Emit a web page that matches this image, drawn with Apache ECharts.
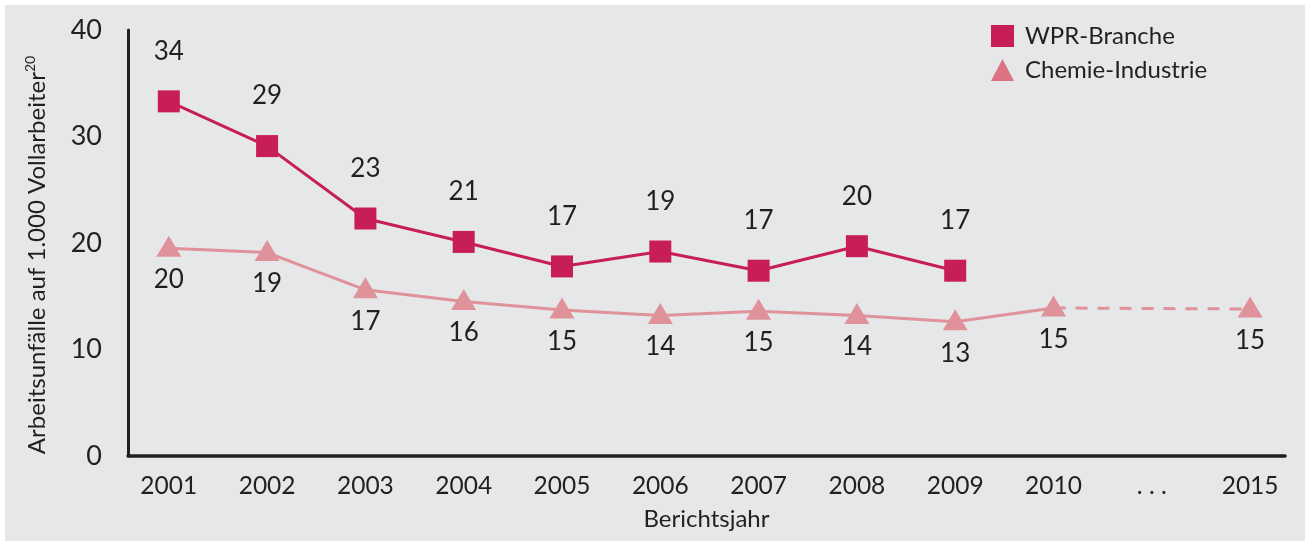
<!DOCTYPE html>
<html>
<head>
<meta charset="utf-8">
<script src="https://cdn.jsdelivr.net/npm/echarts@6/dist/echarts.min.js"></script>
<style>
  html, body { margin: 0; padding: 0; background: #ffffff; }
  #chart { position: absolute; left: 5px; top: 5px; width: 1300px; height: 536px; background: #e6e7e9; }
</style>
</head>
<body>
<div id="chart"></div>
<script>
// ---- data ----
const categories = ['2001', '2002', '2003', '2004', '2005', '2006', '2007', '2008', '2009', '2010', '. . .', '2015'];
const wprValues = [33.3, 29.1, 22.3, 20.1, 17.8, 19.2, 17.4, 19.7, 17.4];
const wprLabels = ['34', '29', '23', '21', '17', '19', '17', '20', '17'];
const chemValues = [19.5, 19.1, 15.6, 14.5, 13.7, 13.2, 13.6, 13.2, 12.6, 13.9, null, 13.8];
const chemLabels = ['20', '19', '17', '16', '15', '14', '15', '14', '13', '15', '', '15'];
const yTicks = [0, 10, 20, 30, 40];

// ---- styles ----
const WPR_COLOR = '#c71d58';
const CHEM_COLOR = '#e0929b';
const CHEM_LEGEND = '#dc7282';
const TEXT = '#231f20';
const FONT = 'Lato';

const chart = echarts.init(document.getElementById('chart'), null, { renderer: 'canvas' });

const wprData = wprValues.map((v, i) => [i, v]);
const chemSolid = [];
for (let i = 0; i <= 9; i++) chemSolid.push([i, chemValues[i]]);
const chemDashed = [
  { value: [9, chemValues[9]], symbol: 'none', label: { show: false } },
  { value: [11, chemValues[11]], label: { show: true, formatter: chemLabels[11] } }
];

const labelBase = { color: TEXT, fontFamily: FONT, fontSize: 26 };

const option = {
  animation: false,
  grid: { left: 123, right: 20, top: 25, bottom: 85, containLabel: false },
  legend: {
    orient: 'vertical',
    left: 981,
    top: 14,
    itemWidth: 23,
    itemHeight: 22,
    itemGap: 10,
    textStyle: { color: TEXT, fontFamily: FONT, fontSize: 24, lineHeight: 22, padding: [0, 0, 0, 6] },
    data: [
      { name: 'WPR-Branche', icon: 'rect', itemStyle: { color: WPR_COLOR } },
      { name: 'Chemie-Industrie', icon: 'triangle', itemStyle: { color: CHEM_LEGEND } }
    ]
  },
  xAxis: {
    type: 'value',
    min: -0.415,
    max: 11.355,
    splitLine: { show: false },
    axisLine: { show: true, onZero: false, lineStyle: { color: TEXT, width: 3.5 } },
    axisTick: { show: false },
    axisLabel: {
      customValues: categories.map((c, i) => i),
      formatter: (v) => categories[Math.round(v)] || '',
      color: TEXT, fontFamily: FONT, fontSize: 24.5, margin: 18
    },
    name: 'Berichtsjahr',
    nameLocation: 'middle',
    nameGap: 51,
    nameTextStyle: { color: TEXT, fontFamily: FONT, fontSize: 24 }
  },
  yAxis: {
    type: 'value',
    min: 0,
    max: 40,
    interval: 10,
    splitLine: { show: false },
    axisLine: { show: true, onZero: false, lineStyle: { color: TEXT, width: 3 } },
    axisTick: { show: false },
    axisLabel: {
      color: TEXT, fontFamily: FONT, fontSize: 27, margin: 26,
      formatter: (v) => yTicks.includes(v) ? String(v) : ''
    },
    name: '{a|Arbeitsunfälle auf 1.000 Vollarbeiter}{s|20}',
    nameLocation: 'middle',
    nameGap: 77,
    nameTextStyle: {
      color: TEXT, fontFamily: FONT, padding: [0, 24, 0, 0],
      rich: {
        a: { fontSize: 24, color: TEXT, fontFamily: FONT, lineHeight: 28 },
        s: { fontSize: 14, color: TEXT, fontFamily: FONT, lineHeight: 28, verticalAlign: 'top', padding: [0, 0, 13, 0] }
      }
    }
  },
  series: [
    {
      name: 'Chemie-Industrie',
      type: 'line',
      data: chemDashed,
      symbol: 'triangle',
      symbolSize: [25, 21],
      symbolOffset: [0, -2],
      lineStyle: { color: CHEM_COLOR, width: 3, type: [12, 10] },
      itemStyle: { color: CHEM_COLOR },
      label: { ...labelBase, show: true, position: 'bottom', distance: 10 },
      z: 2
    },
    {
      name: 'Chemie-Industrie',
      type: 'line',
      data: chemSolid,
      symbol: 'triangle',
      symbolSize: [25, 21],
      symbolOffset: [0, -2],
      lineStyle: { color: CHEM_COLOR, width: 3 },
      itemStyle: { color: CHEM_COLOR },
      label: { ...labelBase, show: true, position: 'bottom', distance: 10,
               formatter: (p) => chemLabels[p.dataIndex] },
      z: 3
    },
    {
      name: 'WPR-Branche',
      type: 'line',
      data: wprData,
      symbol: 'rect',
      symbolSize: 22,
      lineStyle: { color: WPR_COLOR, width: 3 },
      itemStyle: { color: WPR_COLOR },
      label: { ...labelBase, show: true, position: 'top', distance: 26,
               formatter: (p) => wprLabels[p.dataIndex] },
      z: 4
    }
  ]
};

chart.setOption(option);
</script>
</body>
</html>
